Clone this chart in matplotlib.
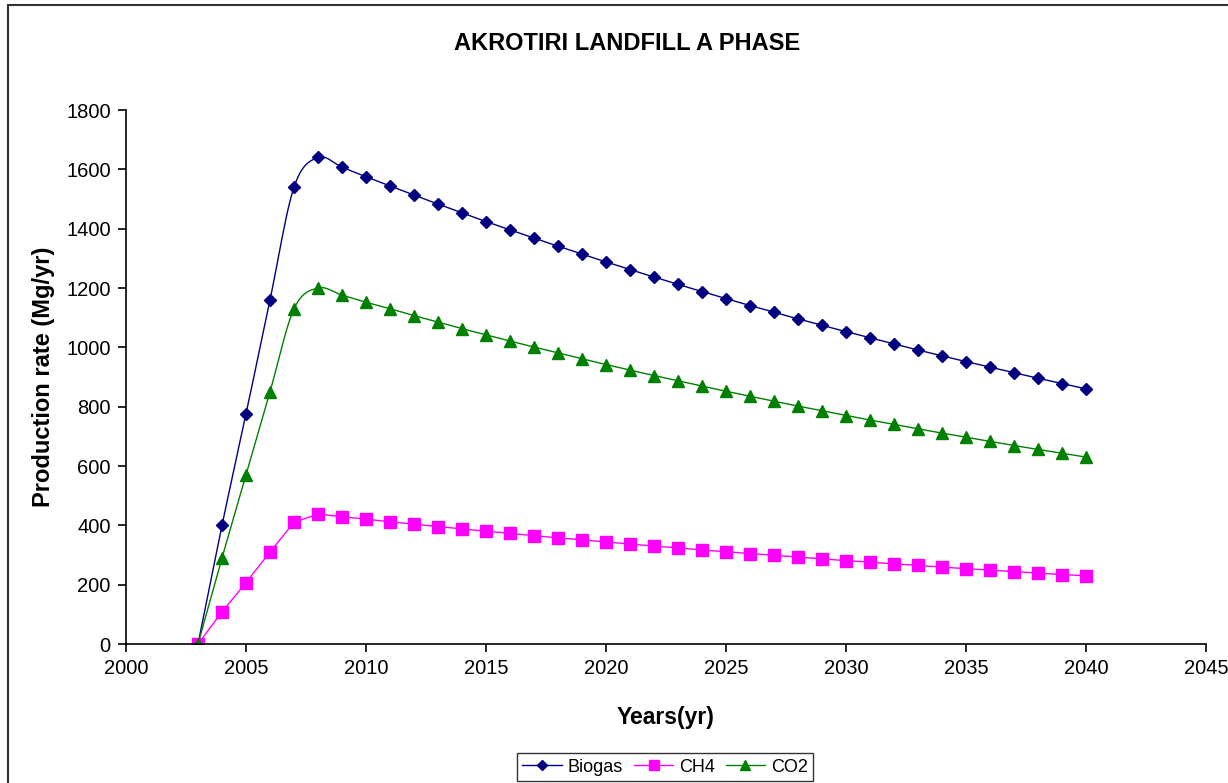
import numpy as np
import matplotlib
matplotlib.use("Agg")
import matplotlib.pyplot as plt
from matplotlib.patches import Rectangle

plt.rcParams['font.family'] = ['Liberation Sans', 'DejaVu Sans']

years = list(range(2003, 2041))
biogas = [0, 400, 775, 1160, 1540, 1640, 1607, 1575, 1544, 1513, 1483, 1453,
          1424, 1396, 1368, 1341, 1314, 1288, 1262, 1237, 1212, 1188, 1164,
          1141, 1118, 1096, 1074, 1053, 1032, 1011, 991, 971, 952, 933, 914,
          896, 878, 860]
ch4 = [0, 108, 207, 310, 410, 438, 429, 421, 412, 404, 396, 388, 380, 373,
       365, 358, 351, 344, 337, 330, 324, 317, 311, 305, 299, 293, 287, 281,
       276, 270, 265, 259, 254, 249, 244, 239, 234, 230]
co2 = [0, 290, 570, 850, 1130, 1200, 1176, 1152, 1130, 1107, 1085, 1063,
       1042, 1021, 1001, 981, 961, 942, 923, 905, 887, 869, 852, 835, 818,
       802, 786, 770, 755, 740, 725, 711, 697, 683, 669, 656, 643, 630]

xticks = list(range(2000, 2046, 5))
yticks = list(range(0, 1801, 200))


def smooth(x, y, n=12):
    # Catmull-Rom style curve through the points (Excel "smoothed line")
    x = np.asarray(x, float)
    y = np.asarray(y, float)
    px = np.concatenate([[2 * x[0] - x[1]], x, [2 * x[-1] - x[-2]]])
    py = np.concatenate([[2 * y[0] - y[1]], y, [2 * y[-1] - y[-2]]])
    t = np.linspace(0, 1, n, endpoint=False)
    ox, oy = [], []
    for i in range(1, len(px) - 2):
        for arr, out in ((px, ox), (py, oy)):
            p0, p1, p2, p3 = arr[i - 1], arr[i], arr[i + 1], arr[i + 2]
            out.extend(0.5 * (2 * p1 + (-p0 + p2) * t
                              + (2 * p0 - 5 * p1 + 4 * p2 - p3) * t ** 2
                              + (-p0 + 3 * p1 - 3 * p2 + p3) * t ** 3))
    ox.append(x[-1])
    oy.append(y[-1])
    return ox, oy


fig = plt.figure(figsize=(12.28, 7.83), dpi=100)
fig.patches.append(Rectangle((8 / 1228, -0.1), 1.2, 1 - 5 / 783 + 0.1,
                             transform=fig.transFigure, fill=False,
                             edgecolor='#333333', linewidth=1.5))
ax = fig.add_axes([126 / 1228, 1 - 644 / 783, 1080 / 1228, 534 / 783])

sx, sy = smooth(years, biogas)
ax.plot(sx, sy, color='#000080', lw=1)
ax.plot(years, biogas, ls='none', marker='D', ms=6, color='#000080')
ax.plot(years, ch4, color='#FF00FF', lw=1, marker='s', ms=8)
sx, sy = smooth(years, co2)
ax.plot(sx, sy, color='#008000', lw=1)
ax.plot(years, co2, ls='none', marker='^', ms=8, color='#008000')

ax.set_xlim(2000, 2045)
ax.set_ylim(0, 1800)
ax.set_xticks(xticks)
ax.set_yticks(yticks)
ax.tick_params(labelsize=14.5, length=6, width=1.2, direction='out', pad=5)
for s in ('top', 'right'):
    ax.spines[s].set_visible(False)
for s in ('left', 'bottom'):
    ax.spines[s].set_linewidth(1.2)
ax.set_xlabel('Years(yr)', fontsize=16.5, fontweight='bold', labelpad=20)
ax.set_ylabel('Production rate (Mg/yr)', fontsize=17, fontweight='bold', labelpad=8)
fig.text(627 / 1228, 1 - 44 / 783, 'AKROTIRI LANDFILL A PHASE', ha='center',
         va='center', fontsize=17, fontweight='bold')

h1, = ax.plot([], [], color='#000080', lw=1, marker='D', ms=5)
h2, = ax.plot([], [], color='#FF00FF', lw=1, marker='s', ms=7)
h3, = ax.plot([], [], color='#008000', lw=1, marker='^', ms=7)
leg = fig.legend([h1, h2, h3], ['Biogas', 'CH4', 'CO2'], ncol=3,
                 loc='center', bbox_to_anchor=(665 / 1228, 1 - 767 / 783),
                 fontsize=13, frameon=True, fancybox=False, handlelength=2.2,
                 handletextpad=0.3, columnspacing=0.6, borderpad=0.3)
leg.get_frame().set_edgecolor('black')
leg.get_frame().set_linewidth(1)

fig.savefig('out.png', dpi=100)
